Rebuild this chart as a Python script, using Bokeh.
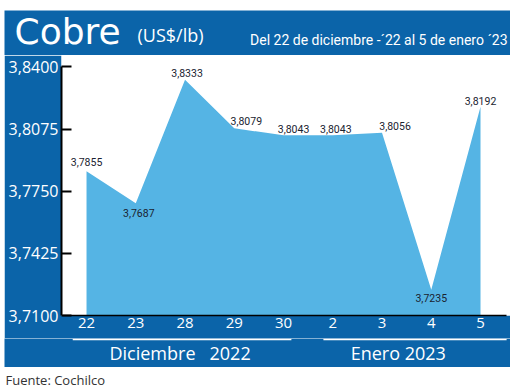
from bokeh.plotting import figure
from bokeh.models import Range1d, FixedTicker, ColumnDataSource
from bokeh.layouts import column
from bokeh.embed import file_html
from bokeh.resources import INLINE
from bokeh.core.properties import value

# ---- data ----
days = ["22", "23", "28", "29", "30", "2", "3", "4", "5"]
prices = [3.7855, 3.7687, 3.8333, 3.8079, 3.8043, 3.8043, 3.8056, 3.7235, 3.8192]
price_labels = ["3,7855", "3,7687", "3,8333", "3,8079", "3,8043", "3,8043", "3,8056", "3,7235", "3,8192"]
y_ticks = [3.7100, 3.7425, 3.7750, 3.8075, 3.8400]
y_tick_labels = ["3,7100", "3,7425", "3,7750", "3,8075", "3,8400"]
month_names = ["Diciembre\u00a0\u00a0\u00a02022", "Enero 2023"]
title_text = "Cobre"
unit_text = "(US$/lb)"
period_text = "Del 22 de diciembre -´22 al 5 de enero ´23"
source_text = "Fuente: Cochilco"

# ---- styles / positions ----
BLUE = "#0b64a9"
AREA = "#55b4e4"
SANS = "Open Sans"
COND = "Roboto"
W = 506
LEFT = 57
label_dx = [0, 3, 2, 12, 10, 3, 13, 0, 0]
label_dy = [-9, 10, -7, -7, -6, -6, -7, 8, -6]
month_line_left = [-0.28, 4.81]
month_line_right = [4.16, 8.53]
month_label_x = [1.9, 6.33]
X_START, X_END = -0.508, 8.609

x = list(range(len(days)))
Y0 = y_ticks[0]
common = dict(output_backend="svg", toolbar_location=None, outline_line_color=None)

# ---- title band ----
t = figure(width=W, height=45, x_range=Range1d(0, W), y_range=Range1d(45, 0),
           x_axis_type=None, y_axis_type=None, min_border=0,
           background_fill_color=BLUE, border_fill_color=BLUE, **common)
t.frame_align = False
t.grid.visible = False
t.text(x=[10], y=[21], text=[title_text], text_font=value("DejaVu Sans"),
       text_font_size="36px", text_color="white", text_baseline="middle")
t.text(x=[133], y=[24], text=[unit_text], text_font=value(SANS),
       text_font_size="18px", text_color="white", text_baseline="middle")
t.text(x=[503], y=[29], text=[period_text], text_font=value(COND),
       text_font_size="14px", text_color="white", text_align="right",
       text_baseline="middle")

# ---- main chart ----
p = figure(width=W, height=283, x_range=Range1d(X_START, X_END), y_range=Range1d(Y0, 3.846),
           min_border_left=LEFT, min_border_right=0, min_border_top=0, min_border_bottom=23,
           background_fill_color="white", border_fill_color=BLUE, **common)
p.frame_align = False
p.xgrid.visible = False
p.ygrid.visible = False

p.varea(x=x, y1=[Y0] * len(x), y2=prices, fill_color=AREA)

src = ColumnDataSource(dict(x=x, y=prices, lab=price_labels, dx=label_dx, dy=label_dy))
p.text("x", "y", text="lab", x_offset="dx", y_offset="dy", source=src,
       text_align="center", text_baseline="middle", text_font=value(COND),
       text_font_size="10.5px", text_color="#1a2330")

xa = p.xaxis[0]
xa.ticker = FixedTicker(ticks=x)
xa.major_label_overrides = {i: d for i, d in enumerate(days)}
xa.axis_line_color = "black"
xa.axis_line_width = 1.5
xa.bounds = (-0.49, 8.53)
xa.major_tick_in = 0
xa.major_tick_out = 0
xa.minor_tick_line_color = None
xa.major_label_text_color = "white"
xa.major_label_text_font = SANS
xa.major_label_text_font_size = "15px"
xa.major_label_standoff = 2

ya = p.yaxis[0]
ya.ticker = FixedTicker(ticks=y_ticks)
ya.major_label_overrides = {tk: lb for tk, lb in zip(y_ticks, y_tick_labels)}
ya.axis_line_color = "black"
ya.axis_line_width = 2
ya.bounds = (y_ticks[0], y_ticks[-1])
ya.major_tick_in = 10
ya.major_tick_out = 0
ya.major_tick_line_color = "black"
ya.major_tick_line_width = 2
ya.minor_tick_line_color = None
ya.major_label_text_color = "white"
ya.major_label_text_font = SANS
ya.major_label_text_font_size = "16px"
ya.major_label_standoff = 3

# ---- month band (same x scale as the chart, frame extended over the left border) ----
frame_w = W - LEFT
m_start = X_START - LEFT * (X_END - X_START) / frame_w
m = figure(width=W, height=29, x_range=Range1d(m_start, X_END), y_range=Range1d(29, 0),
           x_axis_type=None, y_axis_type=None, min_border=0,
           background_fill_color=BLUE, border_fill_color=BLUE, **common)
m.frame_align = False
m.grid.visible = False
m.segment(x0=month_line_left, y0=[1, 1], x1=month_line_right, y1=[1, 1],
          line_color="white", line_width=1.5)
m.text(x=month_label_x, y=[14, 14], text=month_names, text_font=value(SANS),
       text_font_size="18px", text_color="white", text_align="center",
       text_baseline="middle")

# ---- footer ----
f = figure(width=W, height=20, x_range=Range1d(0, W), y_range=Range1d(20, 0),
           x_axis_type=None, y_axis_type=None, min_border=0,
           background_fill_color="white", border_fill_color="white", **common)
f.frame_align = False
f.grid.visible = False
f.text(x=[1], y=[12], text=[source_text], text_font=value(SANS),
       text_font_size="13px", text_color="#333333", text_baseline="middle")

layout = column(t, p, m, f, spacing=0, margin=(10, 0, 0, 4))
open("out.html", "w").write(file_html(layout, INLINE))
